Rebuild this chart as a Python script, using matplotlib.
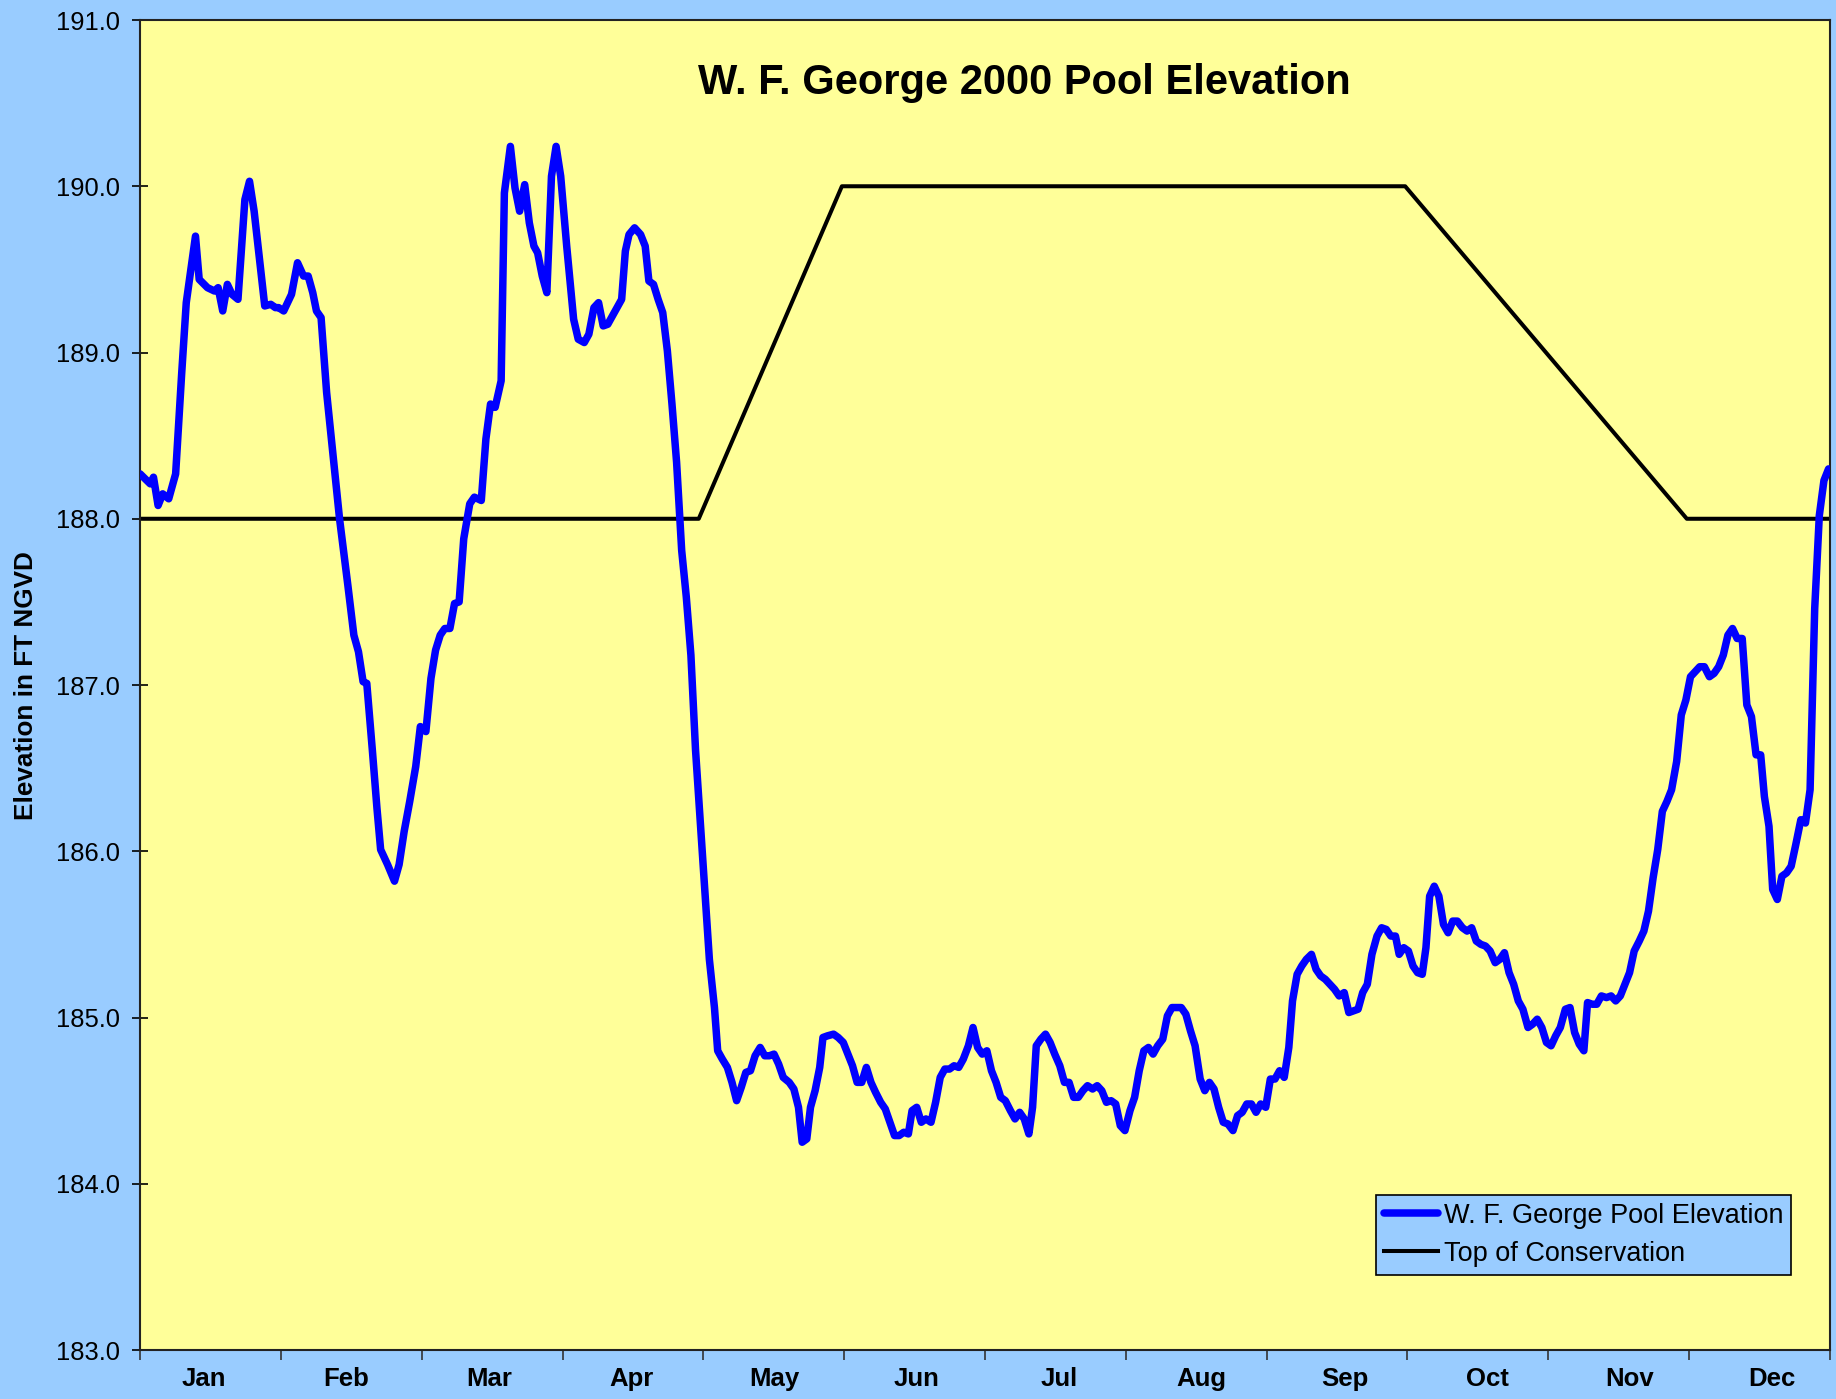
import numpy as np
import matplotlib.pyplot as plt

plt.rcParams['font.family'] = ['Liberation Sans', 'DejaVu Sans']

months = ['Jan', 'Feb', 'Mar', 'Apr', 'May', 'Jun', 'Jul', 'Aug', 'Sep', 'Oct', 'Nov', 'Dec']

# day of year (0 = Jan 1) and pool elevation
pool_day = [
    0.0, 2.2, 2.9, 3.9, 4.9, 6.2, 7.7, 9.0, 10.0, 12.0,
    12.8, 14.6, 16.1, 16.9, 17.9, 18.9, 19.9, 21.2, 22.7, 23.7,
    24.7, 27.0, 28.3, 29.3, 30.0, 31.1, 32.8, 34.1, 35.4, 36.4,
    37.4, 38.2, 39.2, 40.4, 42.2, 43.2, 45.0, 46.3, 47.3, 48.3,
    49.1, 50.3, 51.3, 52.1, 53.6, 55.1, 56.1, 57.2, 58.4, 59.7,
    60.7, 61.9, 63.0, 64.0, 65.0, 66.0, 67.1, 68.1, 69.1, 70.1,
    71.4, 72.4, 73.9, 74.9, 75.9, 76.9, 78.2, 78.9, 80.2, 81.2,
    82.2, 83.3, 84.3, 85.3, 86.1, 87.1, 88.1, 89.1, 90.1, 91.1,
    92.4, 93.9, 94.9, 96.2, 97.2, 98.3, 99.3, 100.3, 101.3, 102.3,
    103.3, 104.3, 105.1, 105.9, 107.1, 108.4, 109.4, 110.2, 111.2, 112.2,
    113.2, 114.2, 115.2, 116.2, 117.3, 118.3, 119.3, 120.3, 121.3, 122.3,
    123.3, 124.4, 125.1, 126.1, 127.2, 128.2, 129.2, 130.2, 131.2, 132.2,
    133.2, 134.3, 135.3, 136.3, 137.3, 138.3, 139.3, 140.6, 141.6, 142.6,
    143.4, 144.4, 145.2, 146.2, 147.2, 147.9, 148.9, 150.2, 151.2, 152.3,
    153.3, 154.3, 155.3, 156.3, 157.3, 158.3, 159.3, 160.4, 161.4, 162.4,
    163.4, 164.4, 165.4, 166.4, 167.2, 168.2, 169.2, 170.2, 171.3, 172.3,
    173.3, 174.3, 175.3, 176.3, 177.3, 178.3, 179.4, 180.4, 181.4, 182.4,
    183.4, 184.4, 185.4, 186.4, 187.4, 188.5, 189.5, 190.5, 191.5, 192.5,
    193.3, 194.1, 195.1, 196.1, 197.1, 198.1, 199.2, 200.2, 201.2, 202.2,
    203.2, 204.2, 205.2, 206.3, 207.3, 208.3, 209.3, 210.3, 211.3, 212.3,
    213.3, 214.4, 215.4, 216.4, 217.4, 218.4, 219.4, 220.4, 221.5, 222.5,
    223.5, 224.5, 225.5, 226.5, 227.5, 228.5, 229.6, 230.6, 231.6, 232.6,
    233.6, 234.6, 235.6, 236.7, 237.7, 238.7, 239.7, 240.7, 241.7, 242.7,
    243.8, 244.8, 245.8, 246.8, 247.8, 248.8, 249.6, 250.6, 251.6, 252.6,
    253.7, 254.7, 255.7, 256.7, 257.7, 258.7, 259.7, 260.8, 261.8, 262.8,
    263.8, 264.8, 265.8, 266.8, 267.9, 268.9, 269.9, 270.9, 271.9, 272.7,
    273.7, 274.7, 275.7, 276.7, 277.7, 278.5, 279.3, 280.3, 281.3, 282.3,
    283.3, 284.3, 285.3, 286.4, 287.4, 288.4, 289.4, 290.4, 291.4, 292.4,
    293.5, 294.5, 295.5, 296.5, 297.5, 298.5, 299.5, 300.6, 301.6, 302.6,
    303.6, 304.6, 305.6, 306.6, 307.6, 308.7, 309.7, 310.7, 311.7, 312.7,
    313.5, 314.5, 315.5, 316.5, 317.6, 318.6, 319.6, 320.6, 321.6, 322.6,
    323.6, 324.7, 325.7, 326.7, 327.7, 328.7, 329.7, 330.7, 331.7, 332.8,
    333.8, 334.8, 335.8, 336.8, 337.8, 338.8, 339.9, 340.9, 341.9, 342.9,
    343.9, 344.9, 345.9, 347.0, 348.0, 349.0, 350.0, 351.0, 351.8, 352.8,
    353.6, 354.6, 355.6, 356.6, 357.6, 358.6, 359.7, 360.7, 361.7, 362.7,
    363.7, 364.7, 365.7,
]

pool_elev = [
    188.27, 188.21, 188.25, 188.08, 188.15, 188.12, 188.27, 188.87, 189.30, 189.70,
    189.44, 189.39, 189.37, 189.39, 189.25, 189.41, 189.35, 189.32, 189.92, 190.03,
    189.85, 189.28, 189.29, 189.27, 189.27, 189.25, 189.35, 189.54, 189.46, 189.46,
    189.36, 189.25, 189.21, 188.76, 188.27, 188.00, 187.60, 187.30, 187.20, 187.02,
    187.01, 186.61, 186.26, 186.01, 185.92, 185.82, 185.92, 186.12, 186.30, 186.51,
    186.75, 186.72, 187.04, 187.21, 187.30, 187.34, 187.34, 187.49, 187.50, 187.88,
    188.09, 188.13, 188.11, 188.48, 188.69, 188.67, 188.83, 189.96, 190.24, 189.99,
    189.85, 190.01, 189.78, 189.64, 189.60, 189.46, 189.36, 190.06, 190.24, 190.06,
    189.64, 189.20, 189.08, 189.06, 189.11, 189.27, 189.30, 189.16, 189.17, 189.22,
    189.27, 189.32, 189.61, 189.71, 189.75, 189.71, 189.64, 189.43, 189.41, 189.32,
    189.24, 189.01, 188.69, 188.34, 187.81, 187.53, 187.18, 186.61, 186.19, 185.77,
    185.35, 185.06, 184.80, 184.75, 184.70, 184.61, 184.50, 184.58, 184.67, 184.68,
    184.77, 184.82, 184.77, 184.77, 184.78, 184.72, 184.64, 184.61, 184.57, 184.46,
    184.25, 184.27, 184.46, 184.56, 184.70, 184.88, 184.89, 184.90, 184.88, 184.85,
    184.78, 184.71, 184.61, 184.61, 184.70, 184.61, 184.55, 184.49, 184.45, 184.37,
    184.29, 184.29, 184.31, 184.30, 184.44, 184.46, 184.37, 184.39, 184.37, 184.49,
    184.64, 184.69, 184.69, 184.71, 184.70, 184.75, 184.83, 184.94, 184.82, 184.78,
    184.80, 184.68, 184.61, 184.52, 184.50, 184.44, 184.39, 184.43, 184.39, 184.30,
    184.46, 184.83, 184.87, 184.90, 184.85, 184.78, 184.71, 184.61, 184.61, 184.52,
    184.52, 184.56, 184.59, 184.57, 184.59, 184.56, 184.49, 184.50, 184.48, 184.35,
    184.32, 184.44, 184.52, 184.68, 184.80, 184.82, 184.78, 184.83, 184.87, 185.01,
    185.06, 185.06, 185.06, 185.02, 184.92, 184.83, 184.63, 184.56, 184.61, 184.57,
    184.46, 184.37, 184.36, 184.32, 184.41, 184.43, 184.48, 184.48, 184.43, 184.48,
    184.46, 184.63, 184.63, 184.68, 184.64, 184.82, 185.10, 185.26, 185.31, 185.35,
    185.38, 185.29, 185.25, 185.23, 185.20, 185.17, 185.13, 185.15, 185.03, 185.04,
    185.05, 185.15, 185.20, 185.38, 185.49, 185.54, 185.53, 185.49, 185.49, 185.38,
    185.42, 185.40, 185.31, 185.27, 185.26, 185.42, 185.73, 185.79, 185.73, 185.56,
    185.51, 185.58, 185.58, 185.54, 185.52, 185.54, 185.46, 185.44, 185.43, 185.40,
    185.33, 185.35, 185.39, 185.27, 185.20, 185.10, 185.05, 184.94, 184.96, 184.99,
    184.94, 184.85, 184.83, 184.89, 184.94, 185.05, 185.06, 184.91, 184.84, 184.80,
    185.09, 185.08, 185.08, 185.13, 185.12, 185.13, 185.10, 185.13, 185.20, 185.27,
    185.40, 185.46, 185.52, 185.64, 185.84, 186.01, 186.24, 186.30, 186.37, 186.54,
    186.82, 186.91, 187.05, 187.08, 187.11, 187.11, 187.05, 187.07, 187.11, 187.18,
    187.30, 187.34, 187.28, 187.28, 186.88, 186.81, 186.58, 186.58, 186.33, 186.15,
    185.77, 185.71, 185.85, 185.87, 185.91, 186.04, 186.19, 186.17, 186.37, 187.46,
    188.02, 188.23, 188.30,
]

# top of conservation pool (rule curve)
guide_day = [0, 121, 152, 274, 335, 366]
guide_elev = [188.0, 188.0, 190.0, 190.0, 188.0, 188.0]

fig = plt.figure(figsize=(18.36, 13.99), dpi=100, facecolor='#99CCFF')
ax = fig.add_axes([0.0763, 0.035, 0.9204, 0.9507])
ax.set_facecolor('#FFFF99')

ax.plot(guide_day, guide_elev, color='black', linewidth=2.9, label='Top of Conservation', zorder=2)
ax.plot(pool_day, pool_elev, color='#0000FF', linewidth=5.4, label='W. F. George Pool Elevation',
        solid_joinstyle='round', solid_capstyle='round', zorder=3)

ax.set_xlim(0, 366)
ax.set_ylim(183, 191)

month_len = 366 / 12
ax.set_xticks(np.arange(13) * month_len)
ax.set_xticklabels([])
# labels sit slightly off the month centres, as in the original
ax.set_xticks(13.8 + 30.88 * np.arange(12), minor=True)
ax.set_xticklabels(months, minor=True, fontsize=18.5, fontweight='bold')
ax.tick_params(axis='x', which='major', direction='out', length=7, width=1.2, color='#333333')
ax.tick_params(axis='x', which='minor', length=0, pad=12)

ax.set_yticks(np.arange(183, 192, 1))
ax.set_yticklabels([f'{v:.1f}' for v in np.arange(183, 192, 1)], fontsize=18.4)
ax.tick_params(axis='y', direction='inout', length=11, width=1.2, pad=9)

for s in ax.spines.values():
    s.set_linewidth(1.5)
    s.set_color('#222222')

fig.text(0.558, 0.941, 'W. F. George 2000 Pool Elevation', fontsize=30, fontweight='bold',
         ha='center', va='center')
fig.text(0.014, 0.51, 'Elevation in FT NGVD', fontsize=18.8, fontweight='bold',
         rotation=90, ha='center', va='center')

handles, labels = ax.get_legend_handles_labels()
leg = ax.legend(handles[::-1], labels[::-1], loc='lower left', bbox_to_anchor=(0.7495, 0.0886),
                bbox_transform=fig.transFigure, borderaxespad=0, fontsize=19.5,
                facecolor='#99CCFF', edgecolor='black', framealpha=1, fancybox=False,
                handlelength=2.0, handletextpad=0.2, labelspacing=0.45, borderpad=0.3)
leg.get_frame().set_linewidth(1.2)

plt.savefig('out.png', dpi=100, facecolor=fig.get_facecolor())
